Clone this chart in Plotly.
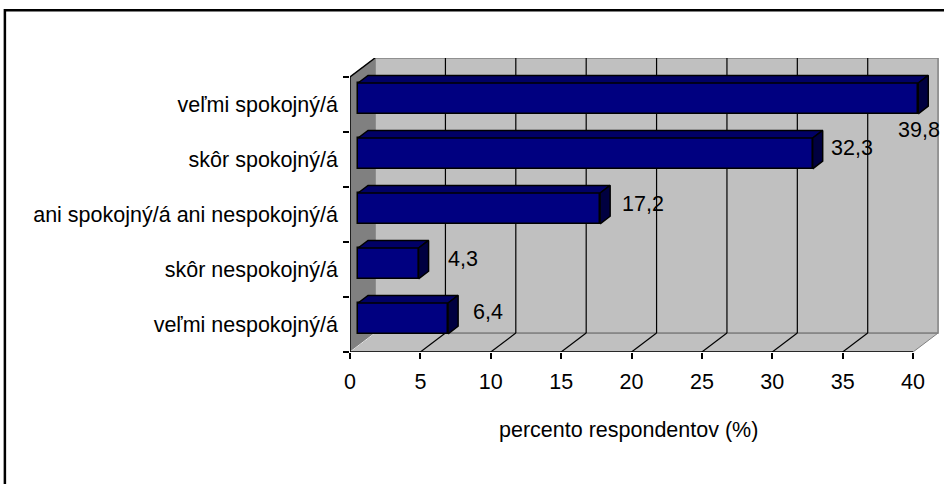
import plotly.graph_objects as go

# ---------- data (bottom to top, as drawn)
kategorie = ["veľmi nespokojný/á", "skôr nespokojný/á", "ani spokojný/á ani nespokojný/á",
             "skôr spokojný/á", "veľmi spokojný/á"]
hodnoty = [6.4, 4.3, 17.2, 32.3, 39.8]
x_ticky = [0, 5, 10, 15, 20, 25, 30, 35, 40]
x_titulok = "percento respondentov (%)"

# ---------- 3D look (in axis units)
hlbka_x = 1.78      # depth of the floor along x
hlbka_y = 0.345     # depth of the floor along y
f0, f1 = 0.32, 0.72 # front / back of the bars as fraction of depth
vyska = 0.56        # height of a bar front
x_max = 42.2
y_max = len(kategorie) + hlbka_y
x_koniec = x_ticky[-1]
n = len(kategorie)

pismo = dict(family="Liberation Sans, Arial", size=21.5, color="black")

# label offsets in px (Excel moved the last one inside the frame)
posun_x = [40, 44, 43, 39, 1]
posun_y = [6, 4, 4, 5, -32]

fig = go.Figure()


def cesta(body):
    return "M " + " L ".join(f"{a},{b}" for a, b in body) + " Z"


def plocha(body, farba, ciara, sirka=1):
    fig.add_shape(type="path", xref="x", yref="y", path=cesta(body), fillcolor=farba,
                  line=dict(color=ciara, width=sirka), layer="below")


def ciara(a, b, farba, sirka=1):
    fig.add_shape(type="line", xref="x", yref="y", x0=a[0], y0=a[1], x1=b[0], y1=b[1],
                  line=dict(color=farba, width=sirka), layer="below")


#----------Steny a podlaha
plocha([(0, 0), (hlbka_x, hlbka_y), (hlbka_x, n + hlbka_y), (0, n)], "#808080", "#808080")
plocha([(0, 0), (x_koniec, 0), (x_koniec + hlbka_x, hlbka_y), (hlbka_x, hlbka_y)], "#c0c0c0", "#808080")
plocha([(hlbka_x, hlbka_y), (x_koniec + hlbka_x, hlbka_y), (x_koniec + hlbka_x, n + hlbka_y),
        (hlbka_x, n + hlbka_y)], "#c0c0c0", "#808080", 1.5)
ciara((0, 0), (hlbka_x, hlbka_y), "#e6e6e6", 1)

#----------Mriezka
for t in x_ticky[1:-1]:
    ciara((t + hlbka_x, hlbka_y), (t + hlbka_x, n + hlbka_y), "black", 1.2)
    ciara((t, 0), (t + hlbka_x, hlbka_y), "black", 1.2)

#----------Osi
ciara((0, 0), (x_koniec, 0), "black", 1.5)
ciara((0, 0), (0, n), "black", 1.5)
ciara((0, n), (hlbka_x, n + hlbka_y), "black", 1.5)

#----------Stlpce
x0 = f0 * hlbka_x
dx = (f1 - f0) * hlbka_x
dy = (f1 - f0) * hlbka_y
stredy = [i + 0.5 + f0 * hlbka_y for i in range(n)]

fig.add_trace(go.Bar(x=hodnoty, y=stredy, base=x0, width=vyska, orientation="h",
                     marker=dict(color="#000080", line=dict(color="black", width=1.5)),
                     hoverinfo="skip"))


def polygony(zoznam, farba):
    xs, ys = [], []
    for p in zoznam:
        for (a, b) in p + [p[0]]:
            xs.append(a); ys.append(b)
        xs.append(None); ys.append(None)
    fig.add_trace(go.Scatter(x=xs, y=ys, mode="lines", fill="toself", fillcolor=farba,
                             line=dict(color="black", width=1.5), hoverinfo="skip"))


vrchy, boky = [], []
for v, c in zip(hodnoty, stredy):
    yt, yb = c + vyska / 2, c - vyska / 2
    vrchy.append([(x0, yt), (x0 + v, yt), (x0 + v + dx, yt + dy), (x0 + dx, yt + dy)])
    boky.append([(x0 + v, yb), (x0 + v, yt), (x0 + v + dx, yt + dy), (x0 + v + dx, yb + dy)])
polygony(vrchy, "#000066")
polygony(boky, "#000040")

# dummy trace for the category tick marks
fig.add_trace(go.Scatter(x=[0], y=[0], yaxis="y2", mode="markers", marker=dict(size=0, opacity=0),
                         hoverinfo="skip"))

for i, (v, c) in enumerate(zip(hodnoty, stredy)):
    fig.add_annotation(x=x0 + v, y=c, text=f"{v:.1f}".replace(".", ","), showarrow=False,
                       xanchor="center", yanchor="middle", xshift=posun_x[i], yshift=posun_y[i],
                       font=pismo)

fig.add_annotation(x=x_koniec / 2, xref="x", y=-0.265, yref="paper", text=x_titulok,
                   showarrow=False, xanchor="center", yanchor="middle", xshift=-3, font=pismo)

# outer frame of the chart
fig.add_shape(type="rect", xref="paper", yref="paper", x0=-0.581, x1=1.2, y0=-0.8, y1=1.162,
              line=dict(color="black", width=2.5), fillcolor="rgba(0,0,0,0)", layer="above")

fig.update_layout(
    width=944, height=484,
    margin=dict(l=350, r=0, t=58, b=132, pad=0),
    paper_bgcolor="white", plot_bgcolor="white",
    showlegend=False, bargap=0,
    font=pismo,
    xaxis=dict(range=[0, x_max], tickvals=x_ticky, ticks="outside", ticklen=6, tickwidth=1.5,
               tickcolor="black", showgrid=False, zeroline=False, showline=False,
               ticklabelstandoff=4, tickfont=pismo, fixedrange=True),
    yaxis=dict(range=[0, y_max], tickvals=[i + 0.5 for i in range(n)], ticktext=kategorie,
               ticks="", showgrid=False, zeroline=False, showline=False,
               ticklabelstandoff=11, tickfont=pismo, fixedrange=True),
    yaxis2=dict(range=[0, y_max], overlaying="y", side="left", anchor="x",
                tickvals=list(range(n + 1)), ticks="outside", ticklen=6, tickwidth=1.5,
                tickcolor="black", showticklabels=False, showgrid=False, zeroline=False,
                showline=False, fixedrange=True),
)

fig.write_html("out.html", config={"displayModeBar": False},
               post_script="document.body.style.margin='0px';")
